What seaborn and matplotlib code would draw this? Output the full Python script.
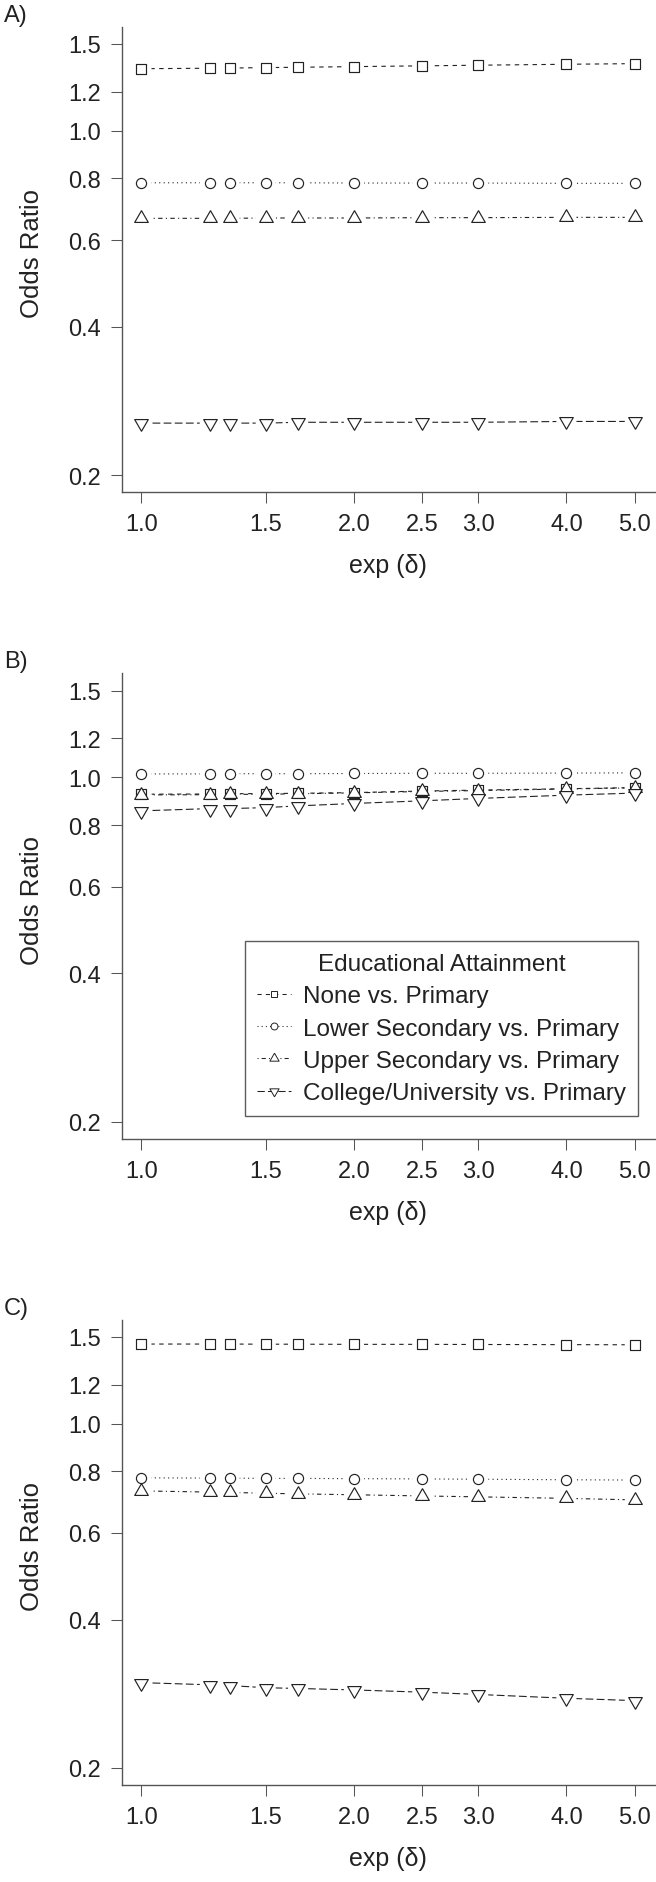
import numpy as np
import pandas as pd
import seaborn as sns
import matplotlib.pyplot as plt
from matplotlib.lines import Line2D
from matplotlib.ticker import FixedLocator, FixedFormatter, NullLocator

# >>>>> data
exp_delta = [1.0, 1.25, 1.333, 1.5, 1.667, 2.0, 2.5, 3.0, 4.0, 5.0]
groups = ["None vs. Primary", "Lower Secondary vs. Primary",
          "Upper Secondary vs. Primary", "College/University vs. Primary"]

A_none = [1.336, 1.339, 1.340, 1.343, 1.345, 1.349, 1.354, 1.358, 1.364, 1.368]
A_lower = [0.784, 0.784, 0.784, 0.784, 0.784, 0.783, 0.783, 0.783, 0.782, 0.782]
A_upper = [0.664, 0.664, 0.664, 0.665, 0.665, 0.665, 0.666, 0.666, 0.667, 0.667]
A_college = [0.255, 0.255, 0.255, 0.255, 0.256, 0.256, 0.256, 0.256, 0.257, 0.257]

B_none = [0.924, 0.925, 0.926, 0.927, 0.928, 0.931, 0.938, 0.942, 0.948, 0.953]
B_lower = [1.016, 1.016, 1.017, 1.017, 1.017, 1.018, 1.019, 1.019, 1.020, 1.021]
B_upper = [0.921, 0.922, 0.923, 0.924, 0.926, 0.930, 0.936, 0.940, 0.947, 0.952]
B_college = [0.855, 0.864, 0.864, 0.868, 0.875, 0.885, 0.896, 0.906, 0.920, 0.929]

C_none = [1.450, 1.450, 1.450, 1.449, 1.449, 1.448, 1.448, 1.447, 1.446, 1.445]
C_lower = [0.776, 0.775, 0.775, 0.774, 0.774, 0.773, 0.772, 0.771, 0.769, 0.768]
C_upper = [0.730, 0.726, 0.725, 0.722, 0.720, 0.717, 0.713, 0.710, 0.705, 0.700]
C_college = [0.298, 0.295, 0.294, 0.291, 0.290, 0.288, 0.285, 0.282, 0.277, 0.274]

panels = {"A)": [A_none, A_lower, A_upper, A_college],
          "B)": [B_none, B_lower, B_upper, B_college],
          "C)": [C_none, C_lower, C_upper, C_college]}

x_ticks = [1.0, 1.5, 2.0, 2.5, 3.0, 4.0, 5.0]
x_ticklabels = ["1.0", "1.5", "2.0", "2.5", "3.0", "4.0", "5.0"]
y_ticks = [0.2, 0.4, 0.6, 0.8, 1.0, 1.2, 1.5]
y_ticklabels = ["0.2", "0.4", "0.6", "0.8", "1.0", "1.2", "1.5"]
# <<<<< data

# >>>>> style
sns.set_style("ticks")
plt.rcParams["font.family"] = ["Liberation Sans", "DejaVu Sans"]
TXT = "#222222"
AXC = "#555555"
INK = "#222222"
FS = 17

# R-like open triangles (pch 2 / pch 6), centred on the centroid
tri_up = [(0, 1.555), (1.347, -0.778), (-1.347, -0.778), (0, 1.555)]
tri_dn = [(0, -1.555), (1.347, 0.778), (-1.347, 0.778), (0, -1.555)]

styles = {
    groups[0]: dict(marker="s", ms=6.5, ls=(0, (4, 4))),
    groups[1]: dict(marker="o", ms=7.3, ls=(0, (1, 3))),
    groups[2]: dict(marker=tri_up, ms=11.3, ls=(0, (1, 3, 4, 3))),
    groups[3]: dict(marker=tri_dn, ms=11.3, ls=(0, (7, 3))),
}
# <<<<< style

fig = plt.figure(figsize=(6.56, 18.83), dpi=100)

left, width, height = 0.1855, 0.8123, 0.2473
bottoms = [0.738, 0.3946, 0.0514]
label_y = [0.9883, 0.6451, 0.3019]

# R-style 4% extension of the log ranges
def ext(lo, hi):
    a, b = np.log(lo), np.log(hi)
    d = (b - a) * 0.04
    return np.exp(a - d), np.exp(b + d)

for (tag, series), bot, ly in zip(panels.items(), bottoms, label_y):
    ax = fig.add_axes([left, bot, width, height])
    df = pd.DataFrame({"exp_delta": np.tile(exp_delta, 4),
                       "odds": np.concatenate(series),
                       "group": np.repeat(groups, len(exp_delta))})

    for g in groups:
        sub = df[df["group"] == g]
        sns.lineplot(data=sub, x="exp_delta", y="odds", ax=ax, color=INK,
                     lw=0.8, linestyle=styles[g]["ls"], zorder=2)
    # white gap around each point (like R type="b")
    sns.scatterplot(data=df, x="exp_delta", y="odds", ax=ax, marker="o",
                    s=14.5 ** 2, color="white", edgecolor="none", linewidth=0,
                    zorder=3)
    for g in groups:
        sub = df[df["group"] == g]
        st = styles[g]
        sns.scatterplot(data=sub, x="exp_delta", y="odds", ax=ax,
                        marker=st["marker"], s=st["ms"] ** 2,
                        facecolor="white", edgecolor=INK, linewidth=0.85,
                        zorder=4)

    ax.set_xscale("log")
    ax.set_yscale("log")
    ax.set_xlim(*ext(1.0, 5.0))
    ax.set_ylim(*ext(0.2, 1.5))
    ax.xaxis.set_major_locator(FixedLocator(x_ticks))
    ax.xaxis.set_major_formatter(FixedFormatter(x_ticklabels))
    ax.yaxis.set_major_locator(FixedLocator(y_ticks))
    ax.yaxis.set_major_formatter(FixedFormatter(y_ticklabels))
    ax.xaxis.set_minor_locator(NullLocator())
    ax.yaxis.set_minor_locator(NullLocator())

    for s in ["top", "right"]:
        ax.spines[s].set_visible(False)
    for s in ["left", "bottom"]:
        ax.spines[s].set_color(AXC)
        ax.spines[s].set_linewidth(1.0)
    ax.tick_params(axis="both", direction="out", length=8, width=0.75,
                   color=AXC, labelsize=FS, labelcolor=TXT, pad=7)

    ax.set_xlabel("exp (δ)", fontsize=18, color=TXT)
    ax.set_ylabel("Odds Ratio", fontsize=18.5, color=TXT)
    ax.xaxis.set_label_coords(0.5, -0.131)
    ax.yaxis.set_label_coords(-0.145, 0.515)
    ax.set_facecolor("none")

    fig.text(0.006, ly, tag, fontsize=FS, color=TXT, va="baseline", ha="left")

    if tag == "B)":
        handles = [Line2D([], [], color=INK, lw=0.75, linestyle=styles[g]["ls"],
                          marker=styles[g]["marker"], ms=styles[g]["ms"] * 0.68,
                          mfc="white", mec=INK, mew=0.7)
                   for g in groups]
        leg = ax.legend(handles, groups, title="Educational Attainment",
                        loc="lower left", bbox_to_anchor=(0.2314, 0.0487),
                        borderaxespad=0, fontsize=17.5, title_fontsize=17.5,
                        frameon=True, fancybox=False, handlelength=1.4,
                        handletextpad=0.47, labelspacing=0.42, borderpad=0.5)
        leg.get_frame().set_edgecolor("#333333")
        leg.get_frame().set_linewidth(1.0)
        for t in leg.get_texts():
            t.set_color(TXT)
        leg.get_title().set_color(TXT)

fig.savefig("out.png", dpi=100, facecolor="white")
